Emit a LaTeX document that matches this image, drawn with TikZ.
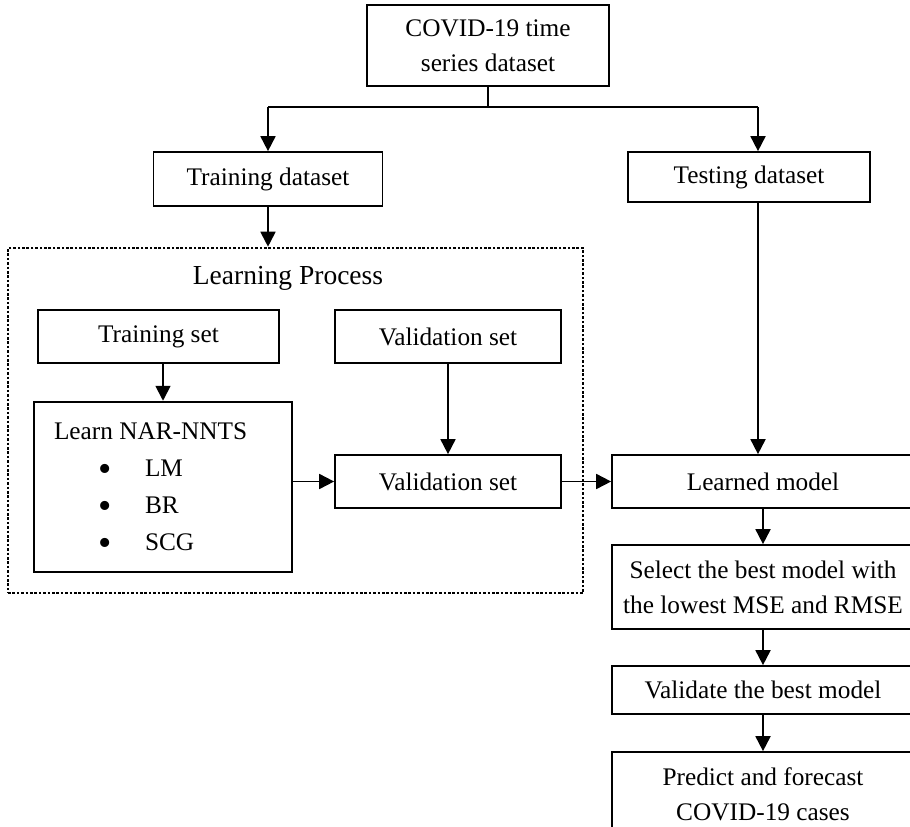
\documentclass[tikz,border=0pt]{standalone}
\usepackage{fontspec}
\setmainfont{Liberation Serif}
\usetikzlibrary{arrows.meta}
\tikzset{
  box/.style={draw, line width=1.7pt, align=center, inner sep=0pt,
    font=\fontsize{25.3}{35}\selectfont},
  arr/.style={-{Triangle[length=15pt,width=15pt]}, line width=1.8pt},
}
\newcommand{\bul}{\raisebox{-5pt}[0pt][0pt]{\scalebox{1.5}{\textbullet}}}
\begin{document}
\begin{tikzpicture}[x=1pt,y=-1pt]
    \useasboundingbox (0,0) rectangle (910,827);
    \clip (0,0) rectangle (910,827);

    % Dataset and split
    \node[box, minimum width=242, minimum height=81] (data) at (488,45.5) {COVID-19 time\\series dataset};
    \node[box, minimum width=229, minimum height=54] (train) at (268,179) {Training dataset};
    \node[box, minimum width=242, minimum height=50] (test) at (749,177) {Testing dataset};
    \coordinate (split) at (488,107);
    \coordinate (tl) at (268,107);
    \coordinate (tr) at (758,107);

    % Learning process
    \node[draw, line width=2.6pt, dash pattern=on 2.6pt off 1.8pt, minimum width=575, minimum height=345, inner sep=0pt] (lproc) at (295.5,420.5) {};
    \node[font=\fontsize{27.5}{35}\selectfont] (lptitle) at (288,278) {Learning Process};
    \node[box, minimum width=241, minimum height=53] (tset) at (158.5,336.5) {Training set};
    \node[box, minimum width=226, minimum height=53] (vtop) at (448,336.5) {Validation set};
    \node[box, line width=2.5pt, minimum width=258, minimum height=170, align=flush left, text width=218, inner xsep=20pt,
        font=\fontsize{25.3}{37}\selectfont] (learn) at (163,487)
        {\raisebox{0pt}[0pt][0pt]{}Learn NAR-NNTS\\
         \hspace*{44pt}\makebox[47pt][l]{\bul}LM\\
         \hspace*{44pt}\makebox[47pt][l]{\bul}BR\\
         \hspace*{44pt}\makebox[47pt][l]{\bul}SCG};
    \node[box, minimum width=226, minimum height=53] (vset) at (448,481.5) {Validation set};

    % Model selection
    \node[box, minimum width=302, minimum height=53] (model) at (763,481.5) {Learned model};
    \node[box, minimum width=302, minimum height=84] (select) at (763,587) {Select the best model with\\the lowest MSE and RMSE};
    \node[box, minimum width=302, minimum height=48] (valid) at (763,690) {Validate the best model};
    \node[box, minimum width=302, minimum height=84] (predict) at (763,794) {Predict and forecast\\COVID-19 cases};

    % Connectors
    \draw[line width=1.8pt] (data.south) -- (split);
    \draw[line width=1.8pt] (tl) -- (tr);
    \draw[arr] (tl) -- (train.north);
    \draw[arr] (tr) -- (tr |- test.north);
    \draw[arr] (train.south) -- (train.south |- lproc.north);
    \draw[arr] (learn.north |- tset.south) -- (learn.north);
    \draw[arr] (vtop.south) -- (vset.north);
    \draw[arr] (vset.west -| learn.east) -- (vset.west);
    \draw[arr] (vset.east) -- (model.west);
    \draw[arr] (tr |- test.south) -- (tr |- model.north);
    \draw[arr] (model.south) -- (select.north);
    \draw[arr] (select.south) -- (valid.north);
    \draw[arr] (valid.south) -- (predict.north);
\end{tikzpicture}
\end{document}
